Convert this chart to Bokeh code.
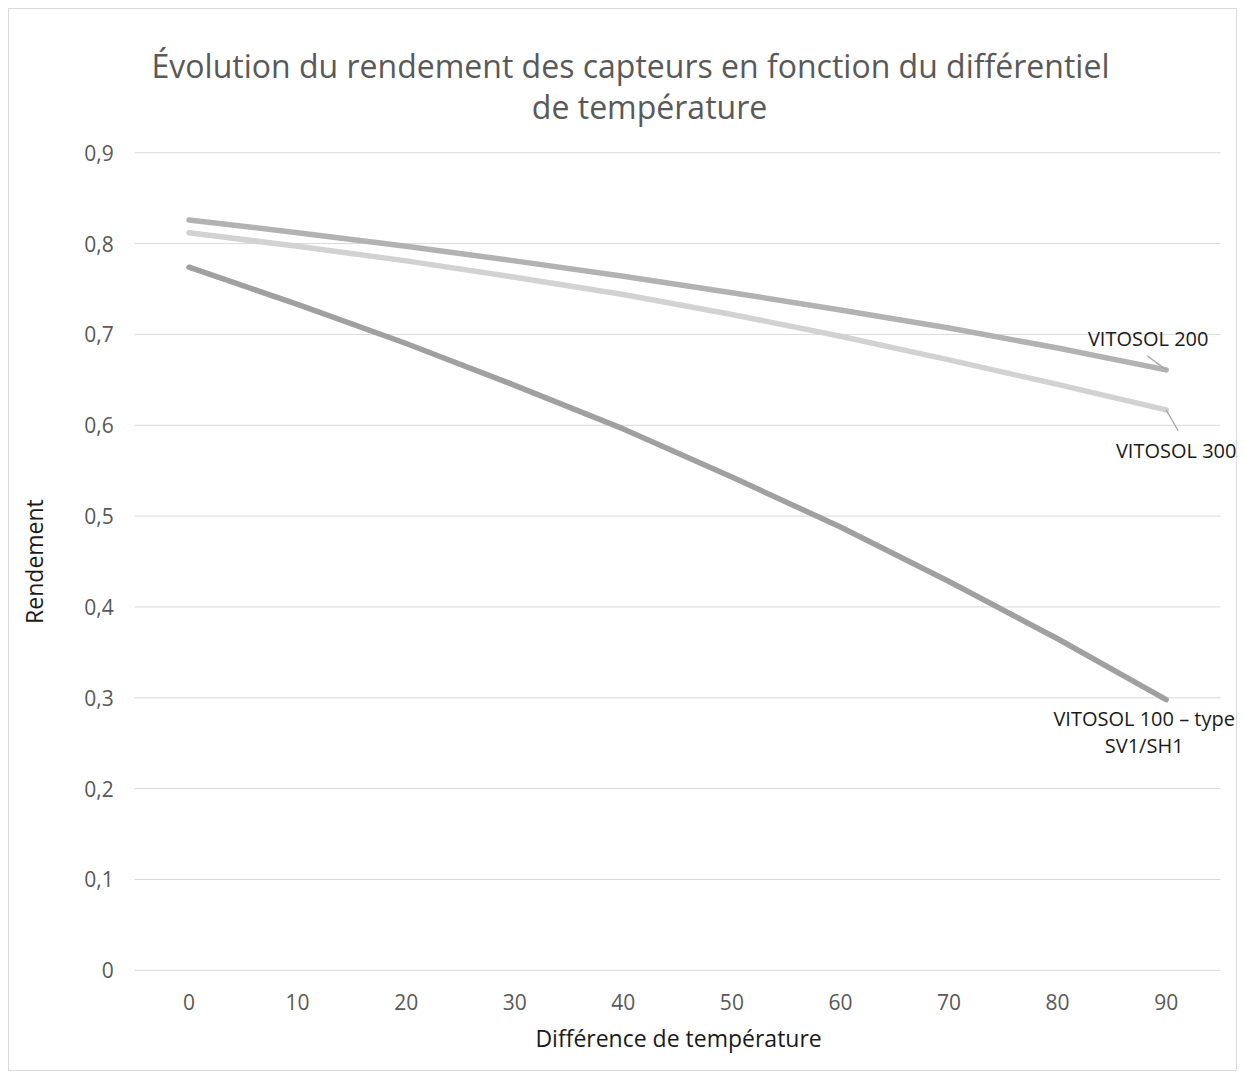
import math
from bokeh.plotting import figure
from bokeh.models import Range1d, Label
from bokeh.core.properties import value
from bokeh.embed import file_html
from bokeh.resources import INLINE

# Data
temp_diff = [0, 10, 20, 30, 40, 50, 60, 70, 80, 90]
vitosol_200 = [0.826, 0.812, 0.797, 0.781, 0.764, 0.746, 0.727, 0.707, 0.685, 0.661]
vitosol_300 = [0.812, 0.797, 0.781, 0.763, 0.744, 0.722, 0.698, 0.672, 0.645, 0.617]
vitosol_100 = [0.774, 0.733, 0.690, 0.644, 0.596, 0.543, 0.488, 0.428, 0.365, 0.298]
y_ticks = [0, 0.1, 0.2, 0.3, 0.4, 0.5, 0.6, 0.7, 0.8, 0.9]
title_lines = ["Évolution du rendement des capteurs en fonction du différentiel", "de température"]
x_title = "Différence de température"
y_title = "Rendement"
series_labels = ["VITOSOL 200", "VITOSOL 300", "VITOSOL 100 – type", "SV1/SH1"]

x_tick_labels = [str(t) for t in temp_diff]
y_tick_labels = ["0" if t == 0 else f"{t:.1f}".replace(".", ",") for t in y_ticks]

FONT = "Open Sans"
GREY = "#595959"
DARK = "#1a1a1a"

# layout: page pixels. Canvas (inside 1px border) spans x 9..1236, y 9..1070.
W, H = 1227, 1061
CX0, CY0 = 9, 9
CX1, CY1 = CX0 + W, CY0 + H
x_lo, x_hi = -5, 95            # category band edges
PL, PR, PT, PB = 134, 1218, 152, 968   # plot area (x_lo..x_hi, 0.9..0)
PXX = (PR - PL) / (x_hi - x_lo)
PXY = (PB - PT) / y_ticks[-1]


def xd(page_x):
    return x_lo + (page_x - PL) / PXX


def yd(page_y):
    return (PB - page_y) / PXY


p = figure(width=W, height=H, output_backend="svg", toolbar_location=None,
           title=None, x_axis_type=None, y_axis_type=None,
           x_range=Range1d(xd(CX0), xd(CX1)), y_range=Range1d(yd(CY1), yd(CY0)),
           min_border_left=0, min_border_right=0, min_border_top=0, min_border_bottom=0)
p.styles = {"border": "1px solid #d9d9d9", "box-sizing": "content-box"}
p.outline_line_color = None
p.border_fill_color = "white"
p.background_fill_color = "white"
p.xgrid.visible = False
p.ygrid.visible = False

# horizontal grid lines at y ticks, across the category span
p.segment(x0=[x_lo] * len(y_ticks), y0=y_ticks, x1=[x_hi] * len(y_ticks), y1=y_ticks,
          line_color="#d9d9d9", line_width=1)

# series
lw = 5.5
p.line(temp_diff, vitosol_100, line_color="#a0a0a0", line_width=lw, line_cap="round", line_join="round")
p.line(temp_diff, vitosol_300, line_color="#d2d2d2", line_width=lw, line_cap="round", line_join="round")
p.line(temp_diff, vitosol_200, line_color="#b2b2b2", line_width=lw, line_cap="round", line_join="round")

# tick labels
p.text(x=[x_lo] * len(y_ticks), y=y_ticks, text=y_tick_labels, x_offset=-21,
       text_font=value(FONT), text_font_size=value("21px"), text_color=GREY,
       text_align="right", text_baseline="middle")
p.text(x=temp_diff, y=[0] * len(temp_diff), text=x_tick_labels, y_offset=32,
       text_font=value(FONT), text_font_size=value("21px"), text_color=GREY,
       text_align="center", text_baseline="middle")

# axis titles
ax_kw = dict(text_font=FONT, text_font_size="23px", text_color=DARK,
             text_align="center", text_baseline="middle")
p.add_layout(Label(x=xd(677), y=yd(1036), text=x_title, **ax_kw))
p.add_layout(Label(x=xd(33), y=yd(560), text=y_title, angle=math.pi / 2, **ax_kw))

# leader lines (from series end points)
last = temp_diff[-1]
p.segment(x0=[last, last], y0=[vitosol_200[-1], vitosol_300[-1]],
          x1=[last - 1.75, last + 1.1], y1=[vitosol_200[-1] + 0.0155, vitosol_300[-1] - 0.023],
          line_color="#a6a6a6", line_width=1.3)

# data labels
lab_kw = dict(text_font=FONT, text_font_size="20px", text_color=DARK,
              text_align="center", text_baseline="middle")
p.add_layout(Label(x=last, y=vitosol_200[-1], x_offset=-18, y_offset=31, text=series_labels[0], **lab_kw))
p.add_layout(Label(x=last, y=vitosol_300[-1], x_offset=10, y_offset=-41, text=series_labels[1], **lab_kw))
p.add_layout(Label(x=last, y=vitosol_100[-1], x_offset=-22, y_offset=-19, text=series_labels[2], **lab_kw))
p.add_layout(Label(x=last, y=vitosol_100[-1], x_offset=-22, y_offset=-46, text=series_labels[3], **lab_kw))

# title (two centred lines)
title_kw = dict(text_font=FONT, text_font_size="32px", text_color=GREY,
                text_align="center", text_baseline="middle")
p.add_layout(Label(x=xd(629), y=yd(65), text=title_lines[0], **title_kw))
p.add_layout(Label(x=xd(648), y=yd(106), text=title_lines[1], **title_kw))

html = file_html(p, INLINE)
html = html.replace("<body>", "<body style=\"margin:8px;\">")
open("out.html", "w").write(html)
